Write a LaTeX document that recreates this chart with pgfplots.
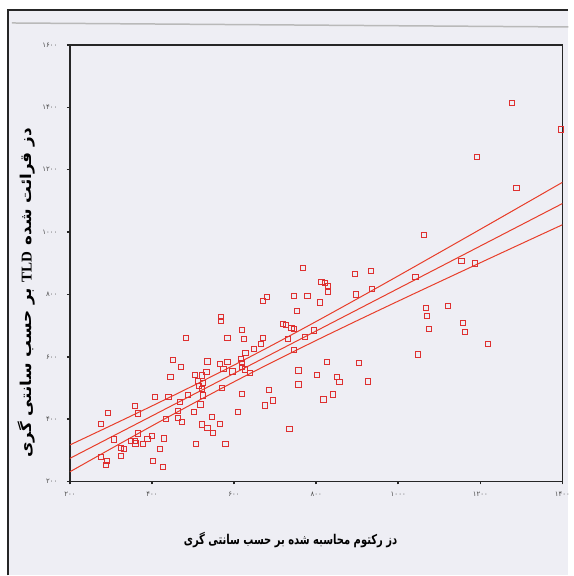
\documentclass[border=0pt]{standalone}
\usepackage{fontspec}
\usepackage{pgfplots}
\pgfplotsset{compat=1.18}
\setmainfont{Liberation Serif}
\newfontfamily\fafont[Script=Arabic, FakeStretch=0.74]{DejaVu Sans}
\newfontfamily\fafontw[Script=Arabic, FakeStretch=1.12]{DejaVu Sans}
\newfontfamily\digitfont{DejaVu Sans}
\TeXXeTstate=1

\definecolor{bgcol}{RGB}{238,238,244}
\definecolor{ptred}{RGB}{222,48,48}
\definecolor{lnred}{RGB}{232,62,42}

\begin{document}
\begin{tikzpicture}
% page and scan frame
\fill[white] (0pt,0pt) rectangle (569pt,576pt);
\fill[bgcol] (8pt,0pt) rectangle (569pt,566pt);
\draw[black!85, line width=1.2pt] (8pt,0pt) -- (8pt,566pt) -- (569pt,566pt);
\draw[gray!55, line width=1.5pt] (12pt,553pt) -- (569pt,549pt);

\begin{axis}[
    at={(70pt,94pt)}, anchor=south west,
    scale only axis,
    width=493pt, height=437pt,
    xmin=200, xmax=1400,
    ymin=200, ymax=1600,
    axis line style={black!85, line width=1.3pt},
    axis background/.style={fill=bgcol},
    xtick={200,400,...,1400},
    ytick={200,400,...,1600},
    xticklabels={۲۰۰,۴۰۰,۶۰۰,۸۰۰,۱۰۰۰,۱۲۰۰,۱۴۰۰},
    yticklabels={۲۰۰,۴۰۰,۶۰۰,۸۰۰,۱۰۰۰,۱۲۰۰,۱۴۰۰,۱۶۰۰},
    xtick pos=bottom, ytick pos=left,
    tick align=outside,
    major tick length=3pt,
    tick style={black!85, line width=1.6pt},
    ticklabel style={font=\digitfont\fontsize{7}{8}\selectfont, text=black!70},
    xticklabel style={yshift=-4pt},
    yticklabel style={xshift=-6pt},
    xlabel={\fafont\bfseries\beginR دز رکتوم محاسبه شده بر حسب سانتی گری\endR},
    ylabel={\fafontw\bfseries\beginR دز قرائت شده \beginL{\rmfamily\bfseries TLD}\endL{} بر حسب سانتی گری\endR},
    xlabel style={font=\fontsize{13.5}{15}\selectfont, at={(axis description cs:0.448,-0.133)}, anchor=center},
    ylabel style={font=\fontsize{15}{17}\selectfont, at={(axis description cs:-0.088,0.432)}, anchor=center},
]
% regression line and confidence band
\addplot[lnred, line width=1pt, smooth] table {
x y
200 317.2
300 379.4
400 442.4
500 506.9
600 573.4
700 642.2
800 713.2
900 785.8
1000 859.5
1100 934.0
1200 1008.8
1300 1084.0
1400 1159.4
};
\addplot[lnred, line width=1pt] table {
x y
200 274.2
1400 1091.4
};
\addplot[lnred, line width=1pt, smooth] table {
x y
200 231.2
300 305.2
400 378.4
500 450.1
600 519.8
700 587.2
800 652.4
900 716.0
1000 778.5
1100 840.2
1200 901.6
1300 962.6
1400 1023.4
};
% measured points
\addplot[only marks, mark=square, mark size=2.6pt, ptred, mark options={line width=1pt, fill=none}] table {
x y
768 885
670 778
680 792
746 796
779 796
809 774
753 746
568 728
568 714
620 687
719 705
727 703
740 693
745 689
482 660
584 660
625 657
670 660
665 640
732 657
648 625
745 623
628 612
451 589
470 567
535 585
566 578
584 584
533 552
574 560
596 553
617 593
620 580
620 567
626 559
638 548
757 556
803 542
445 534
504 542
521 540
512 522
515 505
524 517
757 511
522 497
524 476
570 500
619 481
685 493
488 477
440 471
407 471
469 456
359 441
366 418
518 447
694 460
675 444
293 420
464 426
463 404
473 390
502 423
434 401
609 424
275 384
522 383
547 407
535 371
549 356
566 384
735 369
308 335
324 308
332 305
325 283
348 331
359 329
360 322
366 354
379 319
389 337
399 347
419 305
430 338
508 319
579 321
275 278
291 266
287 254
402 267
426 247
895 866
934 874
813 839
821 837
829 828
829 807
897 800
937 818
794 684
772 663
827 584
905 580
851 534
857 518
926 521
841 479
818 463
1062 991
1154 906
1187 899
1042 856
1067 757
1070 732
1121 762
1075 688
1157 709
1163 680
1219 641
1049 607
1278 1413
1396 1329
1192 1241
1288 1142
};
\end{axis}
\end{tikzpicture}
\end{document}
